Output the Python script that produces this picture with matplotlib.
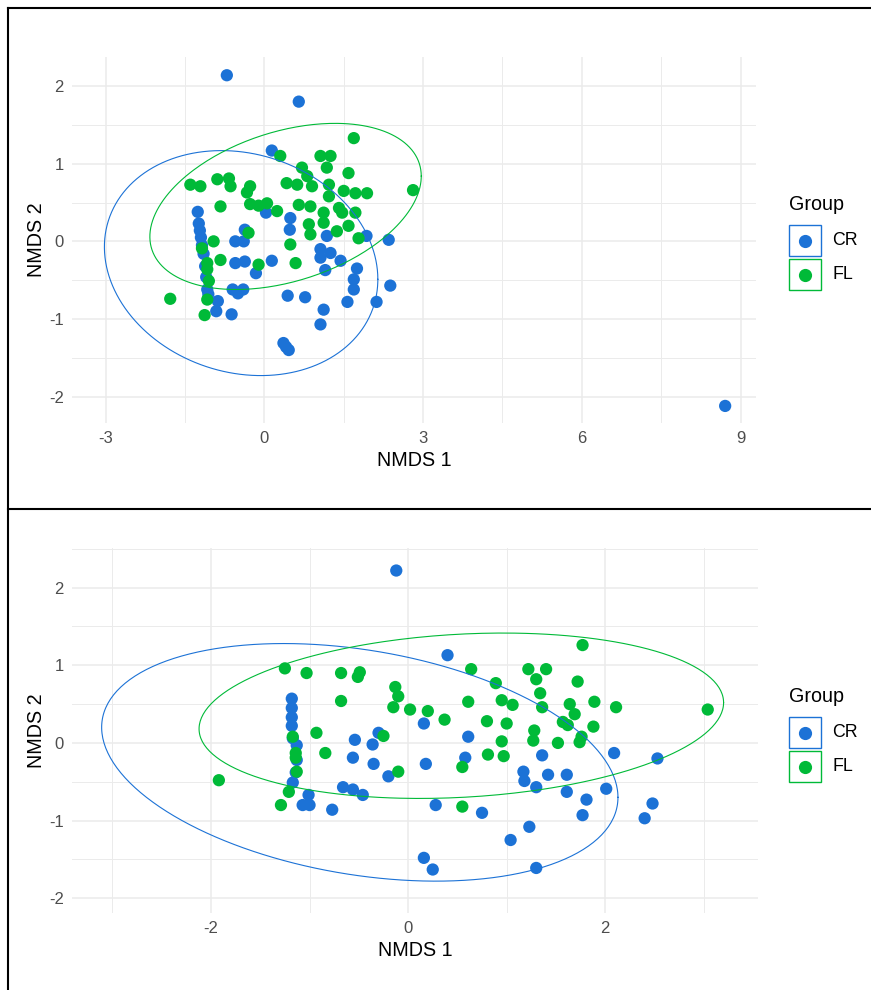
import numpy as np
import matplotlib.pyplot as plt
from matplotlib.patches import Rectangle
from matplotlib.lines import Line2D

plt.rcParams['font.family'] = ['Liberation Sans', 'DejaVu Sans']
plt.rcParams['axes.unicode_minus'] = False

W, H = 871, 990

groups = ["CR", "FL"]
colors = ["#1C72D6", "#00BA38"]

# ---------------- top panel data ----------------
top_cr_x = [-0.71, 0.65, 0.14, -1.26, -1.24, -1.22, -1.20, -1.18, -1.15, -1.12, -1.10,
            -1.08, -1.06, -0.88, -0.91, -0.62, -0.37, -0.55, -0.39, -0.55, -0.37, -0.16,
            0.14, -0.60, -0.40, -0.50, 0.03, 0.49, 0.48, 0.44, 0.36, 0.41, 0.46, 1.18,
            1.06, 1.25, 1.06, 1.44, 1.15, 1.75, 1.69, 1.69, 1.57, 2.12, 2.38, 1.93, 2.35,
            0.77, 1.12, 1.06, 8.71]
top_cr_y = [2.14, 1.80, 1.17, 0.38, 0.23, 0.14, 0.05, -0.05, -0.16, -0.32, -0.46,
            -0.62, -0.68, -0.77, -0.90, -0.94, 0.15, 0.00, 0.00, -0.28, -0.26, -0.41,
            -0.25, -0.62, -0.62, -0.67, 0.37, 0.30, 0.15, -0.70, -1.31, -1.36, -1.40, 0.07,
            -0.10, -0.15, -0.21, -0.25, -0.37, -0.35, -0.49, -0.62, -0.78, -0.78, -0.57, 0.07, 0.02,
            -0.72, -0.88, -1.07, -2.12]
top_fl_x = [0.30, -1.40, -1.21, -0.89, -0.67, -0.64, -0.27, -0.33, -0.83, -0.27, -0.11,
            0.05, 0.24, 0.42, -0.30, -0.96, -1.18, -1.08, -1.08, -0.83, -0.11, -1.05,
            -1.08, -1.13, -1.78, 1.69, 1.06, 1.25, 1.18, 1.59, 0.71, 0.81, 0.62, 0.90,
            1.22, 1.50, 1.72, 1.94, 1.22, 2.81, 0.65, 0.87, 1.12, 1.12, 1.41, 1.47, 1.72,
            0.84, 0.87, 1.37, 1.59, 1.78, 0.49, 0.59]
top_fl_y = [1.10, 0.73, 0.71, 0.80, 0.81, 0.71, 0.71, 0.63, 0.45, 0.48, 0.46,
            0.49, 0.39, 0.75, 0.11, 0.00, -0.09, -0.28, -0.36, -0.24, -0.30, -0.51,
            -0.75, -0.95, -0.74, 1.33, 1.10, 1.10, 0.95, 0.88, 0.95, 0.84, 0.73, 0.71,
            0.73, 0.65, 0.62, 0.62, 0.58, 0.66, 0.47, 0.45, 0.37, 0.24, 0.43, 0.37, 0.37,
            0.22, 0.09, 0.13, 0.20, 0.04, -0.04, -0.28]
# ellipse: centre x, centre y, var x, cov xy, var y
top_ell_cr = [-0.44, -0.28, 6.68, -0.54, 2.10]
top_ell_fl = [0.40, 0.45, 6.58, 1.00, 1.145]

# ---------------- bottom panel data ----------------
bot_cr_x = [-1.18, -1.18, -1.18, -1.18, -1.17, -1.13, -1.13, -1.14, -1.17, -1.01, -1.07,
            -1.00, -0.77, -0.54, -0.56, -0.66, -0.56, -0.46, -0.12, 0.40, -0.30, -0.36,
            0.16, -0.35, -0.20, 0.18, 0.61, 0.58, 0.28, 0.75, 0.16, 0.25, 1.36, 1.17,
            1.18, 1.30, 1.42, 1.23, 1.04, 1.30, 1.61, 1.61, 1.81, 1.77, 2.09, 2.01, 2.53,
            2.48, 2.40]
bot_cr_y = [0.57, 0.45, 0.33, 0.22, 0.06, -0.03, -0.22, -0.38, -0.51, -0.67, -0.80,
            -0.80, -0.86, 0.04, -0.19, -0.57, -0.60, -0.67, 2.22, 1.13, 0.13, -0.02,
            0.25, -0.27, -0.43, -0.27, 0.08, -0.19, -0.80, -0.90, -1.48, -1.63, -0.16, -0.37,
            -0.49, -0.57, -0.41, -1.08, -1.25, -1.61, -0.41, -0.63, -0.73, -0.93, -0.13, -0.59, -0.20,
            -0.78, -0.97]
bot_fl_x = [-1.25, -1.03, -0.68, -0.49, -0.51, -0.68, -0.93, -1.17, -1.14, -1.14, -0.84,
            -1.13, -1.92, -1.21, -1.29, -0.13, -0.10, -0.15, 0.02, 0.20, 0.37, -0.25,
            -0.10, 0.64, 0.61, 0.89, 0.95, 1.06, 0.80, 1.00, 0.95, 0.81, 0.97, 0.55,
            0.55, 1.22, 1.40, 1.30, 1.34, 1.36, 1.28, 1.27, 1.77, 1.72, 1.64, 1.69, 1.89,
            2.11, 1.57, 1.62, 1.88, 1.52, 1.74, 1.76, 3.04]
bot_fl_y = [0.96, 0.90, 0.90, 0.91, 0.85, 0.54, 0.13, 0.08, -0.13, -0.19, -0.13,
            -0.37, -0.48, -0.63, -0.80, 0.72, 0.60, 0.46, 0.43, 0.41, 0.30, 0.09,
            -0.37, 0.95, 0.53, 0.77, 0.55, 0.49, 0.28, 0.25, 0.02, -0.15, -0.17, -0.31,
            -0.82, 0.95, 0.95, 0.82, 0.64, 0.46, 0.16, 0.03, 1.26, 0.79, 0.50, 0.37, 0.53,
            0.46, 0.27, 0.23, 0.21, 0.00, 0.01, 0.08, 0.43]
bot_ell_cr = [-0.49, -0.25, 6.86, -1.18, 2.34]
bot_ell_fl = [0.54, 0.35, 7.08, 0.45, 1.134]


def ellipse_path(p, n=300):
    cx, cy, sxx, sxy, syy = p
    L = np.linalg.cholesky(np.array([[sxx, sxy], [sxy, syy]]))
    t = np.linspace(0, 2 * np.pi, n)
    pts = L @ np.vstack([np.cos(t), np.sin(t)])
    return cx + pts[0], cy + pts[1]


def draw_panel(rect, series, ells, xlim, ylim, xmaj, xmin, ymaj, ymin, legend_top):
    ax = fig.add_axes(rect)
    for (x, y), c in zip(series, colors):
        ax.scatter(x, y, s=78, color=c, edgecolors='none', zorder=3)
    for p, c in zip(ells, colors):
        ex, ey = ellipse_path(p)
        ax.plot(ex, ey, color=c, lw=0.8, zorder=4)
    ax.set_xlim(xlim)
    ax.set_ylim(ylim)
    ax.set_xticks(xmaj)
    ax.set_xticks(xmin, minor=True)
    ax.set_yticks(ymaj)
    ax.set_yticks(ymin, minor=True)
    ax.grid(which='major', color='#EBEBEB', lw=1.1, zorder=0)
    ax.grid(which='minor', color='#EBEBEB', lw=0.7, zorder=0)
    ax.set_axisbelow(True)
    for s in ax.spines.values():
        s.set_visible(False)
    ax.tick_params(which='both', length=0, labelsize=12, labelcolor='#4D4D4D', pad=6)
    ax.set_xlabel("NMDS 1", fontsize=14.2, labelpad=3)
    ax.set_ylabel("NMDS 2", fontsize=14.2, labelpad=2)

    # legend drawn by hand, in pixel positions
    fx = lambda px: px / W
    fy = lambda py: 1 - py / H
    fig.text(fx(789), fy(legend_top + 10), "Group", fontsize=14.2, va='center', ha='left')
    for i, (g, c) in enumerate(zip(groups, colors)):
        top = legend_top + 30 + i * 34
        fig.add_artist(Rectangle((fx(789), fy(top + 31)), 32 / W, 31 / H,
                                 transform=fig.transFigure, fill=False, ec=c, lw=1.0))
        fig.add_artist(Line2D([fx(805)], [fy(top + 15.5)], marker='o', ms=9.5, color=c,
                              mec='none', transform=fig.transFigure))
        fig.text(fx(832), fy(top + 15.5), g, fontsize=12.8, va='center', ha='left')
    return ax


fig = plt.figure(figsize=(W / 100, H / 100), dpi=100)

draw_panel([72 / W, 1 - 423 / H, 684 / W, 366 / H],
           [(top_cr_x, top_cr_y), (top_fl_x, top_fl_y)],
           [top_ell_cr, top_ell_fl],
           (-3.637, 9.293), (-2.34, 2.375),
           [-3, 0, 3, 6, 9], [-1.5, 1.5, 4.5, 7.5],
           [-2, -1, 0, 1, 2], [-1.5, -0.5, 0.5, 1.5],
           195)

draw_panel([72 / W, 1 - 913 / H, 686 / W, 365 / H],
           [(bot_cr_x, bot_cr_y), (bot_fl_x, bot_fl_y)],
           [bot_ell_cr, bot_ell_fl],
           (-3.41, 3.55), (-2.19, 2.51),
           [-2, 0, 2], [-3, -1, 1, 3],
           [-2, -1, 0, 1, 2], [-1.5, -0.5, 0.5, 1.5, 2.5],
           687)

# black frame around the two stacked images
for xs, ys in [([8, 8], [8, 990]), ([8, W], [8, 8]), ([8, W], [509, 509])]:
    fig.add_artist(Line2D([x / W for x in xs], [1 - y / H for y in ys],
                          color='black', lw=1.5, transform=fig.transFigure))

fig.savefig("out.png", dpi=100)
